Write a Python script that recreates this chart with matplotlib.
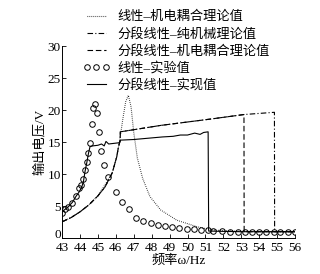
import matplotlib
matplotlib.use("Agg")
import matplotlib.pyplot as plt
import matplotlib.transforms as mtransforms

# fontes: numeros em serif, chines com Noto CJK
plt.rcParams['font.family'] = ['Liberation Serif', 'Noto Sans CJK SC']

# linear - teorico acoplado (pontilhado)
f_lin = [43, 43.5, 44, 44.5, 45, 45.5, 45.8, 46.05, 46.2, 46.4, 46.55, 46.7, 46.85,
         47.0, 47.2, 47.5, 47.9, 48.5, 49.4, 50.5, 51.3, 52, 53, 54, 55, 56]
v_lin = [2.55, 3.2, 4.1, 5.2, 6.6, 8.8, 10.2, 12.7, 15.0, 18.8, 21.3, 22.3, 20.5,
         16.5, 12.5, 9.3, 6.5, 4.4, 2.8, 1.8, 1.3, 1.15, 1.05, 1.0, 1.0, 1.0]

# segmentado - puramente mecanico (traco-ponto)
f_mec = [43, 43.5, 44, 44.5, 45, 45.4, 45.8, 46.05, 46.15, 46.24, 46.25, 48.5, 51.3, 53.15, 54.85, 54.86, 56]
v_mec = [2.55, 3.2, 4.1, 5.2, 6.6, 8.0, 10.2, 12.7, 14.3, 15.2, 16.6, 17.6, 18.6, 19.3, 19.65, 1.0, 1.0]

# segmentado - acoplado (tracejado)
f_acop = [43, 43.5, 44, 44.5, 45, 45.4, 45.8, 46.05, 46.15, 46.24, 46.25, 48.5, 51.3, 53.15, 53.16, 56]
v_acop = [2.55, 3.2, 4.1, 5.2, 6.6, 8.0, 10.2, 12.7, 14.3, 15.2, 16.6, 17.6, 18.6, 19.3, 1.0, 1.0]

# linear - experimental (circulos)
f_exp = [43.0, 43.17, 43.35, 43.58, 43.77, 43.95, 44.08, 44.19, 44.28, 44.38, 44.47, 44.56,
         44.66, 44.75, 44.84, 44.94, 45.07, 45.18, 45.36, 45.55, 46.0, 46.37, 46.74,
         47.13, 47.54, 47.96, 48.35, 48.75, 49.16, 49.55, 49.97, 50.37, 50.75, 51.12, 51.42,
         51.92, 52.38, 52.8, 53.22, 53.6, 54.0, 54.4, 54.8, 55.18, 55.59, 55.98]
v_exp = [3.9, 4.5, 4.8, 5.5, 6.5, 7.8, 8.3, 9.2, 10.6, 11.9, 13.3, 14.9,
         17.9, 20.3, 21.0, 19.6, 16.5, 13.6, 11.4, 9.5, 7.2, 5.6, 4.6,
         3.1, 2.7, 2.3, 2.1, 1.9, 1.7, 1.6, 1.45, 1.35, 1.3, 1.2, 1.15,
         1.05, 1.0, 1.0, 1.0, 1.0, 1.0, 1.0, 1.0, 1.0, 1.0, 1.0]

# segmentado - realizado (continuo)
f_real = [43.0, 43.17, 43.35, 43.58, 43.77, 43.95, 44.1, 44.19, 44.28, 44.38, 44.47, 44.56,
          44.7, 45.0, 45.2, 45.35, 45.45, 45.6, 45.9, 46.2, 46.25, 47.0, 47.8, 48.6,
          49.2, 49.6, 50.0, 50.4, 50.7, 50.9, 51.15, 51.18, 52, 53, 54, 55, 56]
v_real = [4.1, 4.5, 4.9, 5.6, 6.5, 7.2, 8.0, 8.8, 10.4, 11.8, 13.2, 14.3,
          14.4, 14.5, 14.7, 14.4, 15.1, 14.7, 14.8, 14.9, 15.3, 15.4, 15.6, 15.8,
          15.9, 16.1, 16.1, 16.4, 16.2, 16.5, 16.6, 1.1, 1.05, 1.0, 1.0, 1.0, 1.0]

xticks = list(range(43, 57))
yticks = [0, 5, 10, 15, 20, 25, 30]

fig = plt.figure(figsize=(3.2, 2.74), dpi=100)
ax = fig.add_axes([0.194, 0.131, 0.728, 0.701])

lw = 0.8
ax.plot(f_lin, v_lin, color='black', lw=lw, linestyle=(0, (0.6, 1.2)), label='线性–机电耦合理论值')
ax.plot(f_mec, v_mec, color='black', lw=lw, linestyle=(0, (5, 2, 1, 2)), label='分段线性–纯机械理论值')
ax.plot(f_acop, v_acop, color='black', lw=lw, linestyle=(0, (5, 2.5)), label='分段线性–机电耦合理论值')
ax.plot(f_exp, v_exp, linestyle='none', marker='o', ms=4, mfc='none', mec='black', mew=0.7,
        label='线性–实验值')
ax.plot(f_real, v_real, color='black', lw=lw, label='分段线性–实现值')

ax.set_xlim(43, 56)
ax.set_ylim(0, 30)
ax.set_xticks(xticks)
ax.set_yticks(yticks)
ax.tick_params(direction='in', length=3, width=0.6, labelsize=9.5)
ax.tick_params(axis='x', pad=3)
ax.tick_params(axis='y', pad=1)
for s in ['top', 'right']:
    ax.spines[s].set_visible(False)
for s in ['left', 'bottom']:
    ax.spines[s].set_linewidth(0.7)

# sobe um pouco o "0" para nao encostar no "43"
lbl0 = ax.get_yticklabels()[0]
lbl0.set_transform(lbl0.get_transform() + mtransforms.ScaledTranslation(0, 3 / 72, fig.dpi_scale_trans))

ax.set_xlabel('频率ω/Hz', fontsize=9.5, labelpad=0)
ax.set_ylabel('输出电压/V', fontsize=9.5, labelpad=1)

fig.legend(loc='upper left', bbox_to_anchor=(0.26, 0.96), frameon=False, fontsize=9.5,
           numpoints=3, handlelength=2.0, handletextpad=0.6, labelspacing=0.32,
           borderpad=0, borderaxespad=0)

plt.savefig('out.png', dpi=100)
